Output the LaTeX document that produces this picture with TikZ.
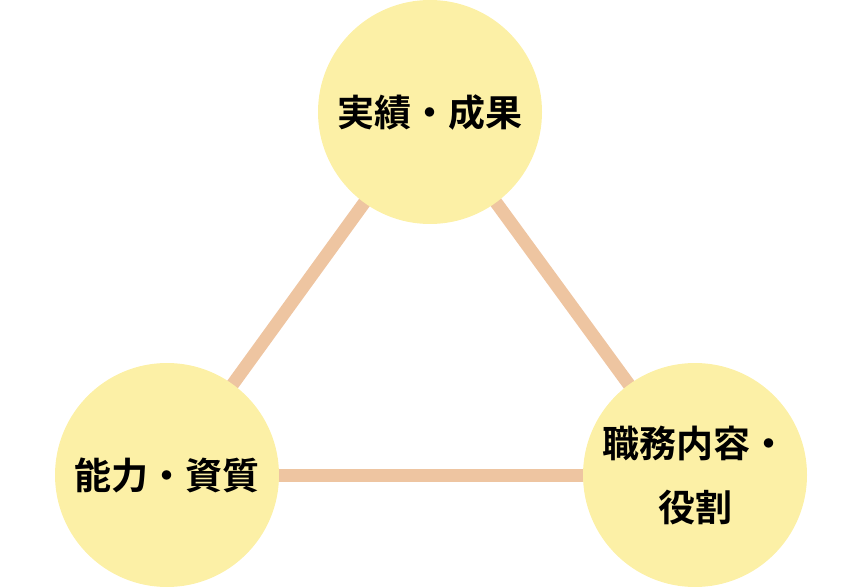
\documentclass[tikz,border=0pt]{standalone}
\usepackage{fontspec}
\newfontfamily\cjk{Noto Sans CJK JP}[BoldFont={Noto Sans CJK JP Bold}]
\usepackage{tikz}
\usetikzlibrary{backgrounds}
\definecolor{circfill}{HTML}{FCF0A6}
\definecolor{linkcol}{HTML}{EEC5A1}

\begin{document}
\begin{tikzpicture}[x=1pt, y=-1pt,
    item/.style={circle, fill=circfill, minimum size=224pt, inner sep=0pt,
        align=center, font=\cjk\bfseries\fontsize{37}{64}\selectfont},
    link/.style={linkcol, line width=13pt}]
        \useasboundingbox (0,0) rectangle (859,588);
        % Circulos
        \node[item] (seika) at (430,112) {実績・成果};
        \node[item] (nouryoku) at (167,475) {能力・資質};
        \node[item] (shokumu) at (695,475) {職務内容・\\役割};
        
        % Lineas
        \begin{scope}[on background layer]
            \draw[link] (seika.center) -- (nouryoku.center);
            \draw[link] (nouryoku.center) -- (shokumu.center);
            \draw[link] (shokumu.center) -- (seika.center);
        \end{scope}
    \end{tikzpicture}
\end{document}
